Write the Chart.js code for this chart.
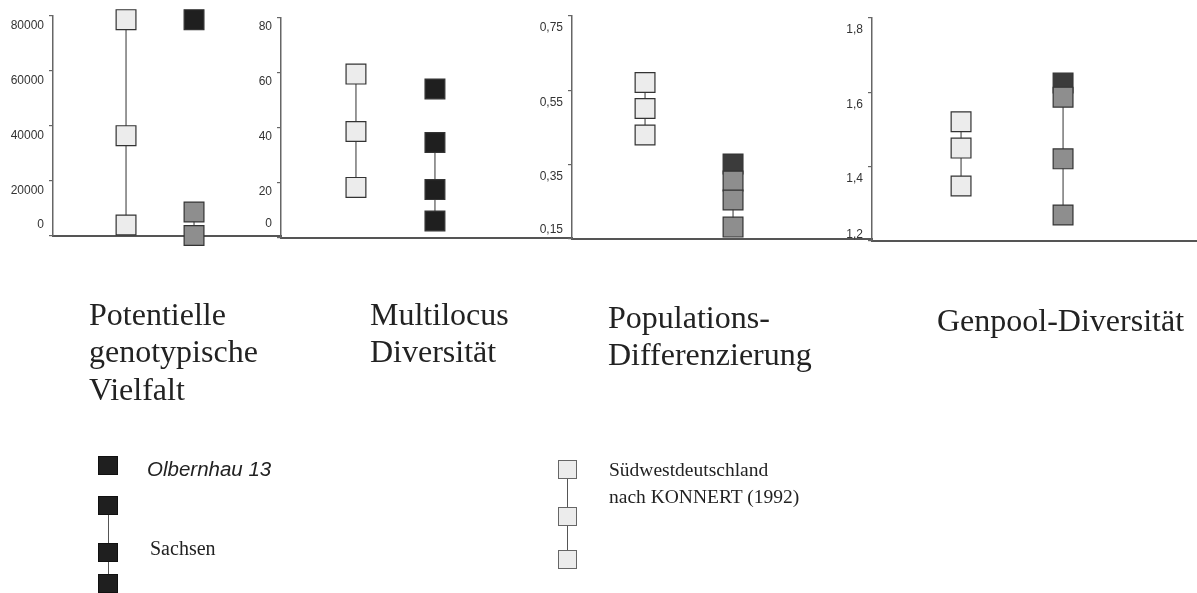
<!DOCTYPE html>
<html lang="de">
<head>
<meta charset="UTF-8">
<title>Genetische Diversität: Olbernhau 13, Sachsen, Südwestdeutschland</title>
<script src="https://cdn.jsdelivr.net/npm/chart.js@4.4.1/dist/chart.umd.min.js"></script>
<style>
  body { margin: 0; background: #fff; }
  #wrap { position: relative; width: 1197px; height: 593px; overflow: hidden; }
  #wrap canvas { position: absolute; left: 0; top: 0; }
  .title {
    position: absolute;
    font-family: 'Liberation Serif', 'Times New Roman', serif;
    font-size: 32px;
    line-height: 37.5px;
    color: #222;
    white-space: nowrap;
  }
  .legend-text { position: absolute; color: #222; white-space: nowrap; }
  .sans-it { font-family: 'Liberation Sans', Arial, sans-serif; font-style: italic; font-size: 20.5px; line-height: 1; }
  .serif { font-family: 'Liberation Serif', 'Times New Roman', serif; font-size: 20px; line-height: 1; }
  .serif2 { font-family: 'Liberation Serif', 'Times New Roman', serif; font-size: 19.5px; line-height: 27px; }
  .box { position: absolute; box-sizing: border-box; }
  .box.dark { width: 20px; height: 19px; background: #1f1f1f; border: 1px solid #111; }
  .box.light { width: 19px; height: 19px; background: #ececec; border: 1px solid #666; }
  .stem { position: absolute; width: 1px; background: #555; }
</style>
</head>
<body>
<div id="wrap">
  <canvas id="c0" width="1197" height="593"></canvas>
  <canvas id="c1" width="1197" height="593"></canvas>
  <canvas id="c2" width="1197" height="593"></canvas>
  <canvas id="c3" width="1197" height="593"></canvas>

  <div class="title" style="left:89px; top:295.5px;">Potentielle<br>genotypische<br>Vielfalt</div>
  <div class="title" style="left:370px; top:295.5px;">Multilocus<br>Diversität</div>
  <div class="title" style="left:608px; top:298.5px;">Populations-<br>Differenzierung</div>
  <div class="title" style="left:937px; top:301.5px;">Genpool-Diversität</div>

  <!-- legend: Olbernhau 13 / Sachsen -->
  <div class="stem" style="left:108px; top:505px; height:78px;"></div>
  <div class="box dark" style="left:98px; top:456px;"></div>
  <div class="box dark" style="left:98px; top:496px;"></div>
  <div class="box dark" style="left:98px; top:543px;"></div>
  <div class="box dark" style="left:98px; top:574px;"></div>
  <div class="legend-text sans-it" style="left:147px; top:458.5px;">Olbernhau 13</div>
  <div class="legend-text serif" style="left:150px; top:538px;">Sachsen</div>

  <!-- legend: Südwestdeutschland -->
  <div class="stem" style="left:567px; top:469px; height:91px;"></div>
  <div class="box light" style="left:558px; top:460px;"></div>
  <div class="box light" style="left:558px; top:507px;"></div>
  <div class="box light" style="left:558px; top:550px;"></div>
  <div class="legend-text serif2" style="left:609px; top:456px;">Südwestdeutschland<br>nach KONNERT (1992)</div>
</div>

<script>
// values
const vielfaltSuedwest = [78500, 36400, 4000];
const vielfaltOlbernhau = [78500];
const vielfaltSachsen = [8700, 200];
const vielfaltTicks = [0, 20000, 40000, 60000, 80000];

const multilocusSuedwest = [59.6, 38.7, 18.4];
const multilocusOlbernhau = [54.2];
const multilocusSachsen = [34.7, 17.6, 6.2];
const multilocusTicks = [0, 20, 40, 60, 80];

const differenzSuedwest = [0.571, 0.501, 0.430];
const differenzOlbernhau = [0.352];
const differenzSachsen = [0.306, 0.255, 0.182];
const differenzTicks = [0.15, 0.35, 0.55, 0.75];

const genpoolSuedwest = [1.521, 1.450, 1.348];
const genpoolOlbernhau = [1.625];
const genpoolSachsen = [1.587, 1.421, 1.270];
const genpoolTicks = [1.2, 1.4, 1.6, 1.8];

const LIGHT = '#ececec', GREY = '#8e8e8e', BLACK = '#1f1f1f', DARK = '#3b3b3b';

// where each panel sits on the page
const panels = [
  { sw: vielfaltSuedwest, ol: vielfaltOlbernhau, sa: vielfaltSachsen, ticks: vielfaltTicks,
    olColor: BLACK, saColor: GREY,
    left: 53, right: 281, top: 15, base: 236, xMin: -0.074, xMax: 3.279, labelOffset: 10, zeroLift: '21px' },
  { sw: multilocusSuedwest, ol: multilocusOlbernhau, sa: multilocusSachsen, ticks: multilocusTicks,
    olColor: BLACK, saColor: BLACK,
    left: 281, right: 572, top: 18, base: 238, xMin: 0.051, xMax: 3.735, labelOffset: 9, zeroLift: '23px' },
  { sw: differenzSuedwest, ol: differenzOlbernhau, sa: differenzSachsen, ticks: differenzTicks,
    olColor: DARK, saColor: GREY,
    left: 572, right: 872, top: 16, base: 239, xMin: 0.170, xMax: 3.579, labelOffset: 12, zeroLift: '21px' },
  { sw: genpoolSuedwest, ol: genpoolOlbernhau, sa: genpoolSachsen, ticks: genpoolTicks,
    olColor: DARK, saColor: GREY,
    left: 872, right: 1197, top: 18, base: 241, xMin: 0.127, xMax: 3.313, labelOffset: 12, zeroLift: '18px' }
];

const AXIS_W = 50;

function series(label, values, col, fill, order) {
    return {
        label: label,
        data: values.map(v => ({ x: col, y: v })),
        showLine: values.length > 1,
        borderColor: '#555',
        borderWidth: 1.2,
        pointStyle: 'rect',
        pointRadius: 14,
        pointHoverRadius: 14,
        pointBackgroundColor: fill,
        pointBorderColor: '#333',
        pointBorderWidth: 1.2,
        clip: false,
        order: order
    };
}

function fmt(v) {
    return String(v).replace('.', ',');
}

panels.forEach((p, i) => {
    new Chart(document.getElementById('c' + i), {
        type: 'line',
        data: {
            datasets: [
                series('Sachsen', p.sa, 2, p.saColor, 0),
                series('Olbernhau 13', p.ol, 2, p.olColor, 1),
                series('Südwestdeutschland', p.sw, 1, LIGHT, 2)
            ]
        },
        options: {
            responsive: false,
            animation: false,
            layout: {
                autoPadding: false,
                padding: { left: p.left - AXIS_W, right: 1197 - p.right, top: p.top, bottom: 593 - p.base }
            },
            plugins: { legend: { display: false }, tooltip: { enabled: false } },
            scales: {
                x: {
                    type: 'linear',
                    min: p.xMin,
                    max: p.xMax,
                    ticks: { display: false },
                    grid: { display: false, drawTicks: false },
                    border: { display: true, color: '#555', width: 2 }
                },
                y: {
                    type: 'linear',
                    min: p.ticks[0],
                    max: p.ticks[p.ticks.length - 1],
                    afterBuildTicks: s => { s.ticks = p.ticks.map(v => ({ value: v })); },
                    afterFit: s => { s.width = AXIS_W; },
                    grid: { drawOnChartArea: false, drawTicks: true, tickLength: 4, color: '#666', lineWidth: 1.2 },
                    border: { color: '#666', width: 1.5 },
                    ticks: {
                        autoSkip: false,
                        padding: 5,
                        labelOffset: p.labelOffset,
                        color: '#333',
                        font: { family: "'Liberation Sans', Arial, sans-serif", size: 12, lineHeight: p.zeroLift },
                        // bottom label sits above the baseline, the others below their tick
                        callback: (v, idx) => idx === 0 ? [fmt(v), '', ''] : fmt(v)
                    }
                }
            }
        }
    });
});
</script>
</body>
</html>
